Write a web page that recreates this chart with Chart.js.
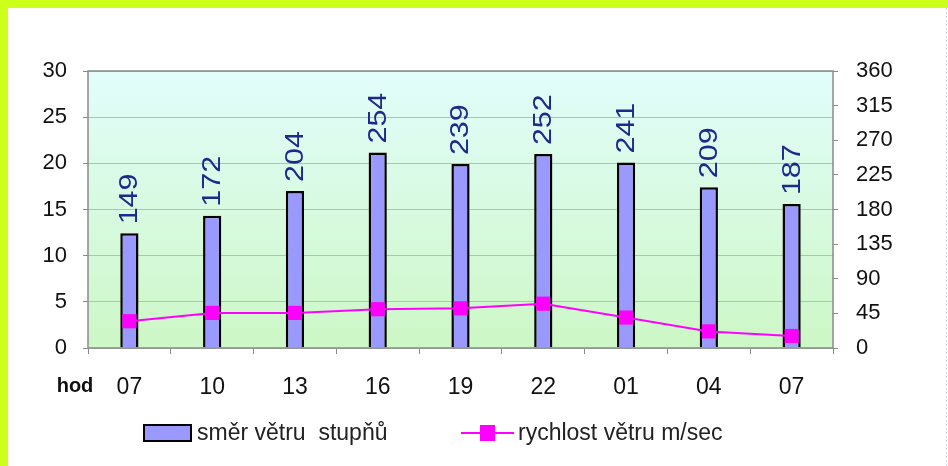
<!DOCTYPE html>
<html>
<head>
<meta charset="utf-8">
<script src="https://cdn.jsdelivr.net/npm/chart.js@4.4.1/dist/chart.umd.min.js"></script>
<style>
  html, body { margin: 0; padding: 0; background: #fff; }
  #wrap { width: 948px; height: 466px; position: relative; }
</style>
</head>
<body>
<div id="wrap"><canvas id="windChart" width="948" height="466"></canvas></div>
<script>
// hodiny mereni
const hours = ['07', '10', '13', '16', '19', '22', '01', '04', '07'];
// smer vetru ve stupnich (prava osa)
const windDir = [149, 172, 204, 254, 239, 252, 241, 209, 187];
// rychlost vetru m/sec (leva osa)
const windSpeed = [2.9, 3.8, 3.8, 4.2, 4.3, 4.8, 3.3, 1.8, 1.3];
const speedTicks = [0, 5, 10, 15, 20, 25, 30];
const dirTicks = [0, 45, 90, 135, 180, 225, 270, 315, 360];

const FONT = '"Liberation Sans", Arial, sans-serif';

const chartDecor = {
  id: 'chartDecor',
  beforeDraw(chart) {
    const { ctx, chartArea: a } = chart;
    ctx.save();
    // ramecek obrazku
    ctx.fillStyle = '#ccff1a';
    ctx.fillRect(0, 0, 948, 8);
    ctx.fillRect(0, 0, 8, 466);
    ctx.strokeStyle = '#d8d0f0';
    ctx.setLineDash([2, 2]);
    ctx.beginPath();
    ctx.moveTo(946.5, 8);
    ctx.lineTo(946.5, 466);
    ctx.stroke();
    ctx.setLineDash([]);
    // pozadi grafu
    const g = ctx.createLinearGradient(0, a.top, 0, a.bottom);
    g.addColorStop(0, '#e2fdfb');
    g.addColorStop(1, '#cdf7c6');
    ctx.fillStyle = g;
    ctx.fillRect(a.left, a.top, a.right - a.left, a.bottom - a.top);
    ctx.restore();
  },
  afterDatasetsDraw(chart) {
    const { ctx, chartArea: a } = chart;
    ctx.save();
    // ramecek plochy
    ctx.strokeStyle = '#8a8a8a';
    ctx.lineWidth = 1.5;
    ctx.strokeRect(a.left, a.top, a.right - a.left, a.bottom - a.top);

    // popisky hodnot nad sloupci (siroke cislice)
    const meta = chart.getDatasetMeta(0);
    ctx.fillStyle = '#1c2a8c';
    ctx.font = '25px ' + FONT;
    ctx.textAlign = 'left';
    ctx.textBaseline = 'middle';
    meta.data.forEach((bar, i) => {
      ctx.save();
      ctx.translate(bar.x + 1, bar.y - 9);
      ctx.rotate(-Math.PI / 2);
      ctx.scale(1.22, 1);
      ctx.fillText(String(windDir[i]), 0, 0);
      ctx.restore();
    });

    // "hod"
    ctx.fillStyle = '#111';
    ctx.font = 'bold 20px ' + FONT;
    ctx.textAlign = 'center';
    ctx.fillText('hod', 75, 386);

    // legenda
    const ds = chart.data.datasets;
    ctx.font = '23px ' + FONT;
    ctx.textAlign = 'left';
    ctx.fillStyle = ds[0].backgroundColor;
    ctx.fillRect(144, 425, 47, 16);
    ctx.strokeStyle = '#000';
    ctx.lineWidth = 2;
    ctx.strokeRect(144, 425, 47, 16);
    ctx.fillStyle = '#222';
    ctx.fillText(ds[0].label, 197, 434);

    ctx.strokeStyle = ds[1].borderColor;
    ctx.lineWidth = 2;
    ctx.beginPath();
    ctx.moveTo(461, 433);
    ctx.lineTo(514, 433);
    ctx.stroke();
    ctx.fillStyle = ds[1].borderColor;
    ctx.fillRect(480, 425, 15, 16);
    ctx.fillStyle = '#222';
    ctx.fillText(ds[1].label, 518, 434);
    ctx.restore();
  }
};

new Chart(document.getElementById('windChart'), {
  data: {
    labels: hours,
    datasets: [
      {
        type: 'bar',
        label: 'směr větru  stupňů',
        data: windDir,
        yAxisID: 'yDir',
        backgroundColor: '#9999ff',
        borderColor: '#000',
        borderWidth: 2.5,
        categoryPercentage: 1,
        barPercentage: 0.22,
        order: 2
      },
      {
        type: 'line',
        label: 'rychlost větru m/sec',
        data: windSpeed,
        yAxisID: 'ySpeed',
        borderColor: '#ff00ff',
        backgroundColor: '#ff00ff',
        borderWidth: 2,
        pointStyle: 'rect',
        pointRadius: 10,
        pointBorderWidth: 0,
        tension: 0,
        order: 1
      }
    ]
  },
  options: {
    responsive: false,
    animation: false,
    layout: { padding: { top: 71, bottom: 58, left: 0, right: 0 } },
    plugins: {
      legend: { display: false },
      tooltip: { enabled: false }
    },
    scales: {
      x: {
        offset: true,
        grid: {
          offset: true,
          drawOnChartArea: false,
          drawTicks: true,
          tickLength: 6,
          color: '#8a8a8a'
        },
        border: { display: false },
        ticks: {
          color: '#111',
          font: { family: FONT, size: 23 },
          padding: 20,
          maxRotation: 0
        },
        afterFit(scale) { scale.height = 60; }
      },
      ySpeed: {
        position: 'left',
        min: 0,
        max: 30,
        afterBuildTicks(scale) { scale.ticks = speedTicks.map(v => ({ value: v })); },
        grid: {
          color: '#b3c2a8',
          borderDash: [6, 3, 2, 3],
          tickLength: 5,
          tickColor: '#8a8a8a',
          tickBorderDash: []
        },
        border: { display: false },
        ticks: {
          color: '#111',
          font: { family: FONT, size: 22 },
          padding: 16
        },
        afterFit(scale) { scale.width = 88; }
      },
      yDir: {
        position: 'right',
        min: 0,
        max: 360,
        afterBuildTicks(scale) { scale.ticks = dirTicks.map(v => ({ value: v })); },
        grid: {
          drawOnChartArea: false,
          tickLength: 5,
          color: '#8a8a8a'
        },
        border: { display: false },
        ticks: {
          color: '#111',
          font: { family: FONT, size: 22 },
          padding: 18
        },
        afterFit(scale) { scale.width = 115; }
      }
    }
  },
  plugins: [chartDecor]
});
</script>
</body>
</html>
